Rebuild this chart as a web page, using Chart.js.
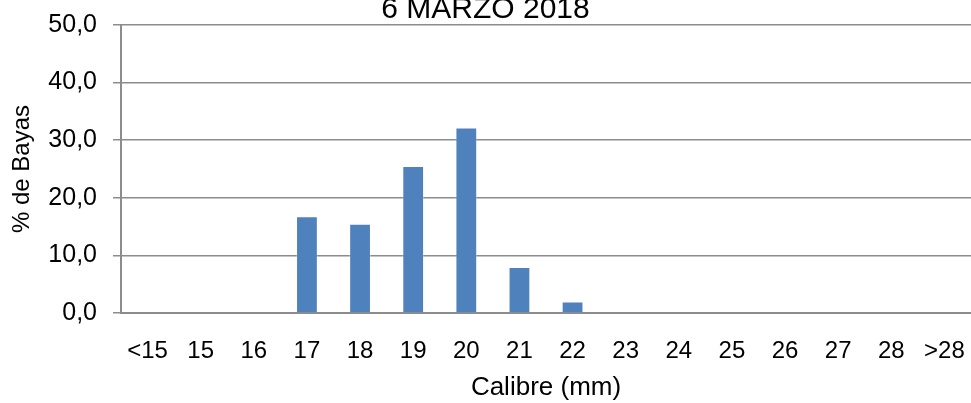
<!DOCTYPE html>
<html>
<head>
<meta charset="utf-8">
<script src="https://cdn.jsdelivr.net/npm/chart.js@4/dist/chart.umd.min.js"></script>
<style>
  html, body { margin: 0; padding: 0; background: #ffffff; }
  #wrap { width: 971px; height: 403px; position: relative; }
</style>
</head>
<body>
<div id="wrap"><canvas id="c" width="971" height="403"></canvas></div>
<script>
const chartTitle = '6 MARZO 2018';
const categories = ['<15', '15', '16', '17', '18', '19', '20', '21', '22', '23', '24', '25', '26', '27', '28', '>28'];
const pctBayas = [0, 0, 0, 16.8, 15.5, 25.5, 32.2, 8.0, 2.0, 0, 0, 0, 0, 0, 0, 0];
const yTickLabels = ['0,0', '10,0', '20,0', '30,0', '40,0', '50,0'];
const xAxisTitle = 'Calibre (mm)';
const yAxisTitle = '% de Bayas';

const FONT = "'Liberation Sans', Arial, sans-serif";
const GRID = '#8c8c8c';

new Chart(document.getElementById('c'), {
  type: 'bar',
  data: {
    labels: categories,
    datasets: [{
      data: pctBayas,
      backgroundColor: '#4F81BD',
      borderColor: 'rgba(255,255,255,0.3)',
      borderWidth: 1,
      barPercentage: 0.41,
      categoryPercentage: 1.0
    }]
  },
  options: {
    responsive: false,
    animation: false,
    devicePixelRatio: 1,
    layout: { padding: { left: 0, right: 0, top: 0, bottom: 0 } },
    plugins: {
      legend: { display: false },
      tooltip: { enabled: false },
      title: {
        display: true,
        text: chartTitle,
        color: '#000000',
        font: { family: FONT, size: 30, weight: 'normal' },
        padding: { top: -8, bottom: -3 },
        fullSize: true
      }
    },
    scales: {
      x: {
        grid: { display: false, drawTicks: false },
        border: { display: true, color: GRID, width: 2 },
        ticks: {
          color: '#000000',
          font: { family: FONT, size: 24 },
          padding: 24,
          maxRotation: 0,
          autoSkip: false
        },
        title: {
          display: true,
          text: xAxisTitle,
          color: '#000000',
          font: { family: FONT, size: 26 },
          padding: { top: 0, bottom: 0 }
        },
        afterFit: (s) => { s.height = 90; s.paddingLeft = 0; s.paddingRight = 0; }
      },
      y: {
        min: 0,
        max: 50,
        grid: { color: GRID, lineWidth: 1.5, drawTicks: true, tickLength: 8, tickColor: GRID },
        border: { display: true, color: GRID, width: 2 },
        ticks: {
          stepSize: 10,
          color: '#000000',
          font: { family: FONT, size: 25 },
          padding: 16,
          callback: (v, i) => yTickLabels[i]
        },
        title: {
          display: true,
          text: yAxisTitle,
          color: '#000000',
          font: { family: FONT, size: 24 },
          padding: { top: 8, bottom: 0 }
        },
        afterFit: (s) => { s.width = 121; s.paddingTop = 0; s.paddingBottom = 0; }
      }
    }
  }
});
</script>
</body>
</html>
